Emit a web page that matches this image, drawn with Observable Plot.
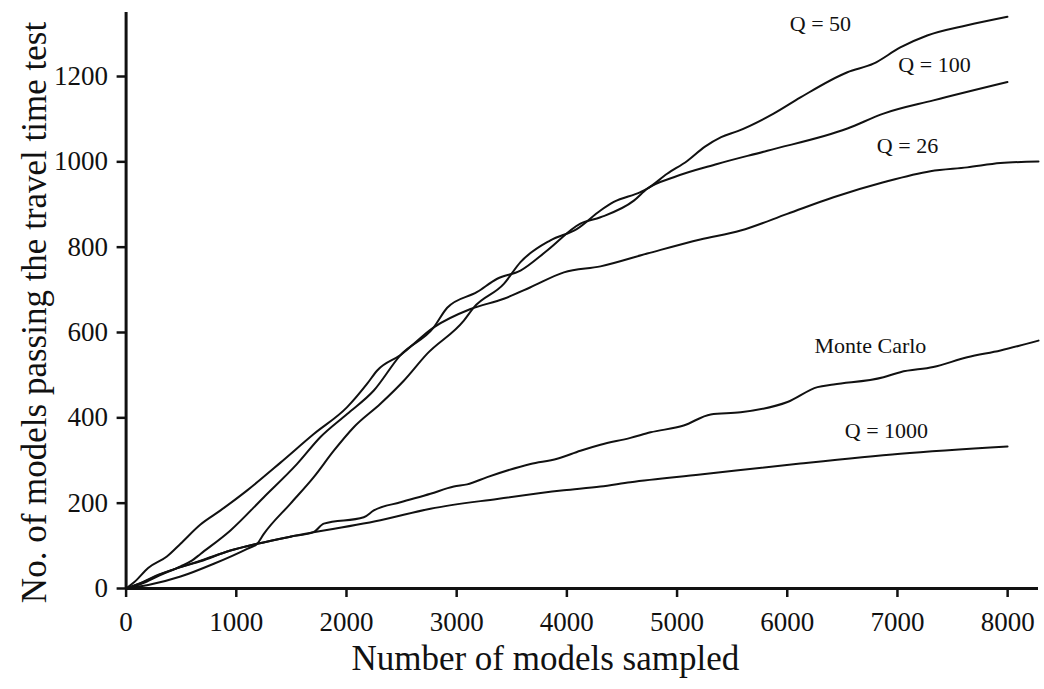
<!DOCTYPE html>
<html>
<head>
<meta charset="utf-8">
<script src="https://cdn.jsdelivr.net/npm/d3@7"></script>
<script src="https://cdn.jsdelivr.net/npm/@observablehq/plot@0.6"></script>
<style>
  html, body { margin: 0; padding: 0; background: #fff; }
  #chart svg { display: block; }
</style>
</head>
<body>
<div id="chart"></div>
<script>
// Cumulative number of models passing the travel time test vs. models sampled.
// Each series: [models sampled, models passing]
const q26 = [[0,0],[75,15],[200,48],[370,75],[494,105],[675,150],[857,183],[1099,230],[1401,295],[1703,362],[2006,425],[2188,480],[2279,511],[2490,547],[2792,612],[3126,655],[3428,679],[3670,706],[3973,741],[4305,755],[4729,785],[5211,818],[5577,839],[6000,878],[6420,917],[6873,952],[7299,978],[7633,987],[7935,997],[8280,1001]];
const q100 = [[0,0],[150,12],[300,30],[494,52],[600,66],[675,81],[947,136],[1250,214],[1552,292],[1764,355],[2006,409],[2248,464],[2490,547],[2792,612],[2914,658],[3186,695],[3368,726],[3579,745],[3821,792],[4123,855],[4305,870],[4608,909],[4729,937],[4970,964],[5364,995],[5819,1026],[6546,1078],[6873,1113],[7326,1144],[7998,1187]];
const q50 = [[0,0],[200,8],[494,28],[796,58],[1099,93],[1190,105],[1250,128],[1492,199],[1703,261],[1885,323],[2066,378],[2308,433],[2520,487],[2731,550],[3065,628],[3156,659],[3428,714],[3579,765],[3851,816],[4093,843],[4305,886],[4426,906],[4668,929],[4729,937],[4910,972],[5092,1002],[5250,1035],[5400,1058],[5550,1072],[5876,1113],[6120,1151],[6546,1210],[6782,1230],[7026,1268],[7270,1296],[7633,1320],[7998,1340]];
const monteCarlo = [[0,0],[150,14],[300,32],[494,50],[675,64],[947,89],[1190,105],[1500,122],[1700,132],[1794,152],[2157,167],[2248,183],[2490,202],[2762,222],[2974,239],[3095,244],[3277,261],[3670,292],[3912,304],[4123,323],[4305,337],[4577,353],[4759,366],[5060,382],[5305,408],[5577,413],[6002,437],[6274,472],[6420,478],[6873,495],[7026,507],[7325,519],[7633,542],[7935,558],[8280,581]];
const q1000 = [[0,0],[150,15],[300,33],[494,50],[675,65],[947,89],[1190,105],[1500,122],[1700,132],[1794,136],[2308,160],[2762,187],[3368,210],[3972,230],[4305,239],[4577,249],[5211,267],[6119,293],[7026,316],[7999,333]];

const seriesNames = ["Q = 26", "Q = 100", "Q = 50", "Monte Carlo", "Q = 1000"];
const seriesValues = [q26, q100, q50, monteCarlo, q1000];

// Curve labels, placed in data units
const labelText = ["Q = 50", "Q = 100", "Q = 26", "Monte Carlo", "Q = 1000"];
const labelX = [6301, 7336, 7091, 6755, 6900];
const labelY = [1324, 1226, 1038, 569, 370];

const xTicks = [0, 1000, 2000, 3000, 4000, 5000, 6000, 7000, 8000];
const yTicks = [0, 200, 400, 600, 800, 1000, 1200];
const xTitle = "Number of models sampled";
const yTitle = "No. of models passing the travel time test";

const rows = seriesNames.flatMap((name, i) =>
  seriesValues[i].map(([x, y]) => ({series: name, x, y})));
const labels = labelText.map((t, i) => ({t, x: labelX[i], y: labelY[i]}));

const ink = "#111";
const chart = Plot.plot({
  width: 1044,
  height: 689,
  marginLeft: 125.6,
  marginRight: 6,
  marginTop: 12,
  marginBottom: 101,
  style: {fontFamily: "'Liberation Serif', 'Times New Roman', serif", background: "#fff", color: ink},
  x: {domain: [0, 8280]},
  y: {domain: [0, 1350]},
  marks: [
    Plot.axisX({ticks: xTicks, tickSize: 9, tickPadding: 14, fontSize: 27, tickFormat: d => String(d), strokeWidth: 2.5, label: null}),
    Plot.axisY({ticks: yTicks, tickSize: 9, tickPadding: 9, fontSize: 27, tickFormat: d => String(d), strokeWidth: 2.5, label: null}),
    Plot.ruleY([0], {stroke: ink, strokeWidth: 3}),
    Plot.ruleX([0], {stroke: ink, strokeWidth: 3}),
    Plot.line(rows, {x: "x", y: "y", z: "series", stroke: ink, strokeWidth: 2, curve: "monotone-x"}),
    Plot.text(labels, {x: "x", y: "y", text: "t", fontSize: 22, fill: ink, textAnchor: "middle", lineAnchor: "middle"}),
    Plot.text([xTitle], {frameAnchor: "bottom", dx: -37, dy: 70, fontSize: 35, fill: ink, textAnchor: "middle", lineAnchor: "middle"}),
    Plot.text([yTitle], {frameAnchor: "left", rotate: -90, dx: -91, dy: 12, fontSize: 35, fill: ink, textAnchor: "middle", lineAnchor: "middle"})
  ]
});
document.getElementById("chart").append(chart);
</script>
</body>
</html>
